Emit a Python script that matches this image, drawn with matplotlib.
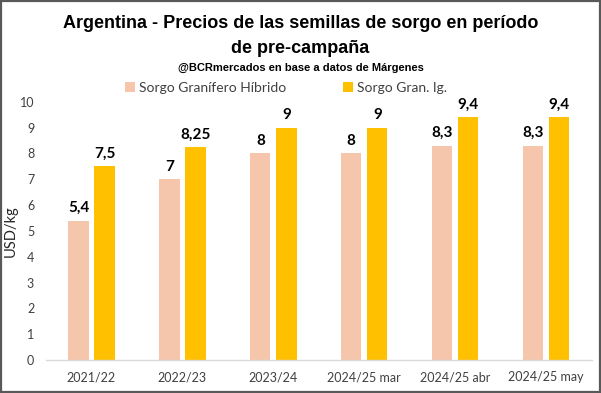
import matplotlib
matplotlib.use("Agg")
import matplotlib.pyplot as plt
import numpy as np
from matplotlib.patches import Rectangle

# ── Data ──────────────────────────────────
categories = ["2021/22", "2022/23", "2023/24", "2024/25 mar", "2024/25 abr", "2024/25 may"]
hibrido    = [5.4, 7.0, 8.0, 8.0, 8.3, 8.3]
gran_ig    = [7.5, 8.25, 9.0, 9.0, 9.4, 9.4]
hibrido_lbl = ["5,4", "7", "8", "8", "8,3", "8,3"]
gran_ig_lbl = ["7,5", "8,25", "9", "9", "9,4", "9,4"]
series_names = ["Sorgo Granífero Híbrido", "Sorgo Gran. Ig."]

# ── Colors ────────────────────────────────
PEACH = "#F6C6AC"
GOLD  = "#FFC000"
TEXT  = "#262626"
TICK  = "#404040"
AXIS  = "#D9D9D9"
FRAME = "#595959"

TITLE_FONT = ["Liberation Sans", "DejaVu Sans"]
BODY_FONT  = ["Lato", "DejaVu Sans"]

fig = plt.figure(figsize=(6.01, 3.93), dpi=100, facecolor="white")
ax = fig.add_axes([0.0765, 0.084, 0.908, 0.657])

x = np.arange(len(categories))
w = 0.223
off = 0.143
b1 = ax.bar(x - off, hibrido, w, color=PEACH, label=series_names[0])
b2 = ax.bar(x + off, gran_ig, w, color=GOLD, label=series_names[1])

for bars, labels in ((b1, hibrido_lbl), (b2, gran_ig_lbl)):
    for bar, lbl in zip(bars, labels):
        ax.annotate(lbl, (bar.get_x() + bar.get_width() / 2, bar.get_height()),
                    xytext=(0, 4), textcoords="offset points",
                    ha="center", va="bottom", fontsize=11, fontweight="bold",
                    color="black", family=BODY_FONT)

ax.set_xlim(-0.5, len(categories) - 0.5)
ax.set_ylim(0, 10)
ax.set_yticks(range(0, 11))
ax.set_xticks(x)
ax.set_xticklabels(categories)
for spine in ("top", "right", "left"):
    ax.spines[spine].set_visible(False)
ax.spines["bottom"].set_color(AXIS)
ax.spines["bottom"].set_linewidth(1.0)
ax.tick_params(axis="both", length=0, labelsize=9, labelcolor=TICK)
ax.tick_params(axis="y", pad=8.5)
ax.tick_params(axis="x", pad=8)
for t in ax.get_xticklabels() + ax.get_yticklabels():
    t.set_family(BODY_FONT)
ax.set_ylabel("USD/kg", fontsize=10.5, color=TEXT, family=BODY_FONT)
ax.yaxis.set_label_coords(-0.051, 0.5)

# Title block
fig.text(0.5, 0.9295, "Argentina - Precios de las semillas de sorgo en período",
         ha="center", va="baseline", fontsize=13, fontweight="bold",
         color="black", family=TITLE_FONT)
fig.text(0.5, 0.865, "de pre-campaña",
         ha="center", va="baseline", fontsize=13, fontweight="bold",
         color="black", family=TITLE_FONT)
fig.text(0.5, 0.820, "@BCRmercados en base a datos de Márgenes",
         ha="center", va="baseline", fontsize=8, fontweight="bold",
         color="black", family=TITLE_FONT)

leg = fig.legend(handles=[b1, b2], labels=series_names, loc="center",
                 bbox_to_anchor=(0.476, 0.776), ncol=2, frameon=False,
                 handlelength=0.7, handleheight=0.7, handletextpad=0.3,
                 columnspacing=4.1, prop={"family": BODY_FONT, "size": 10})
for t in leg.get_texts():
    t.set_color(TICK)

# Outer frame
fig.patches.append(Rectangle((0.002, 0.003), 0.996, 0.994, transform=fig.transFigure,
                             fill=False, edgecolor=FRAME, linewidth=1.6))

plt.savefig("out.png", dpi=100, facecolor="white")
plt.close()
